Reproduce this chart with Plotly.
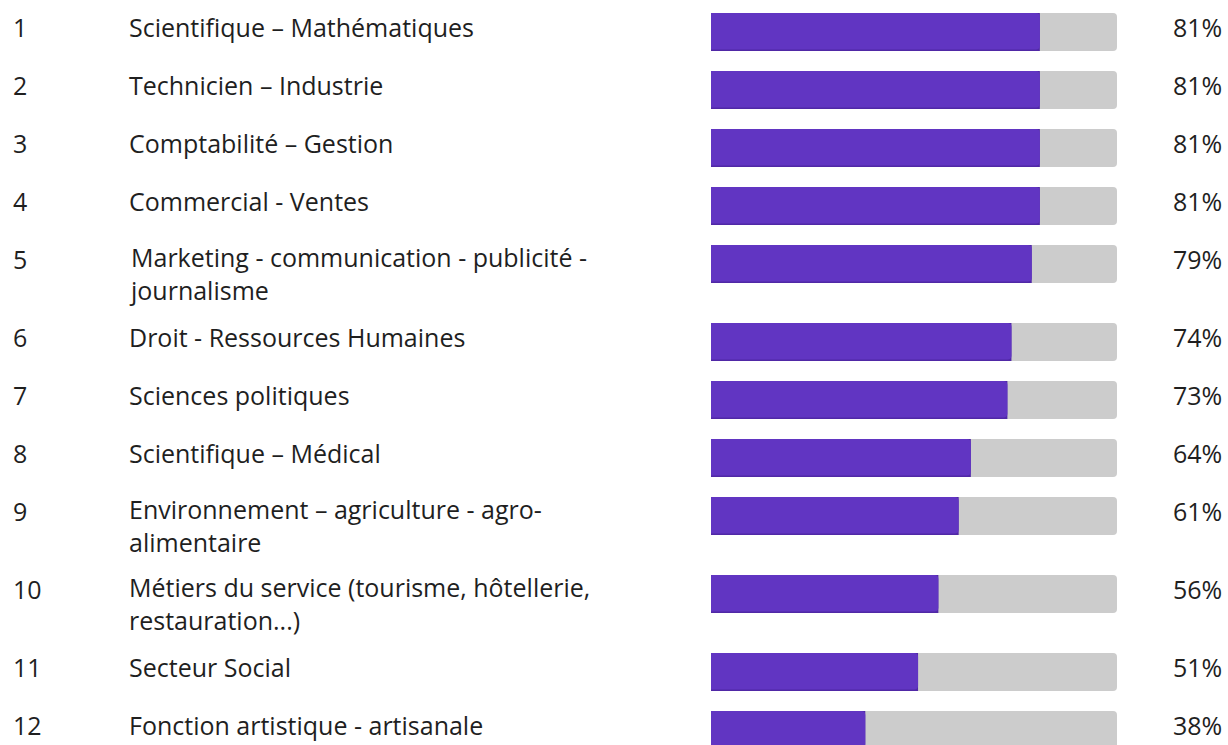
import plotly.graph_objects as go

ranks = ["1", "2", "3", "4", "5", "6", "7", "8", "9", "10", "11", "12"]
labels = [
    "Scientifique – Mathématiques",
    "Technicien – Industrie",
    "Comptabilité – Gestion",
    "Commercial - Ventes",
    "Marketing - communication - publicité -<br>journalisme",
    "Droit - Ressources Humaines",
    "Sciences politiques",
    "Scientifique – Médical",
    "Environnement – agriculture - agro-<br>alimentaire",
    "Métiers du service (tourisme, hôtellerie,<br>restauration...)",
    "Secteur Social",
    "Fonction artistique - artisanale",
]
values = [81, 81, 81, 81, 79, 74, 73, 64, 61, 56, 51, 38]

W, H = 1228, 745
BAR_H = 38
ROW_STEP = 58
EXTRA_LINE = 20
FONT = "Open Sans"
FS = 25
LINE_H = 1.3 * FS
TXT = "#1f1f1f"

# vertical layout in pixel units (y axis = pixels from top)
tops = []
y = 13
for lab in labels:
    tops.append(y)
    y += ROW_STEP + EXTRA_LINE * lab.count("<br>")
centers = [t + BAR_H / 2 for t in tops]

fig = go.Figure()
fig.add_trace(go.Bar(
    x=[100] * len(values), y=centers, orientation="h", width=BAR_H,
    marker=dict(color="#cccccc", line=dict(width=0)), hoverinfo="skip",
))
# subtle darker bottom edge of the filled bar
fig.add_trace(go.Bar(
    x=values, y=centers, orientation="h", width=BAR_H,
    marker=dict(color="#5028a6", line=dict(width=0)), hoverinfo="skip",
))
fig.add_trace(go.Bar(
    x=values, y=[c - 0.75 for c in centers], orientation="h", width=BAR_H - 1.5,
    marker=dict(color="#6135c2", line=dict(width=0)),
    hovertemplate="%{x}%<extra></extra>",
))

ann = []
for r, lab, v, c in zip(ranks, labels, values, centers):
    ty = c - 5
    font = dict(family=FONT, size=FS, color=TXT)
    common = dict(yref="y", yanchor="middle", showarrow=False, font=font)
    n = lab.count("<br>")
    ann.append(dict(xref="paper", x=11 / W, y=ty, xanchor="left", text=r, **common))
    ann.append(dict(xref="paper", x=127 / W, y=ty + n * LINE_H / 2 - 2 * n, xanchor="left",
                    align="left", text=lab, **common))
    ann.append(dict(xref="paper", x=1224 / W, y=ty, xanchor="right", text=f"{v}%", **common))

fig.update_layout(
    width=W, height=H,
    margin=dict(l=0, r=0, t=0, b=0, pad=0),
    paper_bgcolor="white", plot_bgcolor="white",
    barmode="overlay", barcornerradius=4,
    showlegend=False,
    xaxis=dict(domain=[711 / W, 1117 / W], range=[0, 100], visible=False, fixedrange=True),
    yaxis=dict(domain=[0, 1], range=[H, 0], visible=False, fixedrange=True),
    annotations=ann,
    font=dict(family=FONT),
)

fig.write_html(
    "out.html",
    config={"displayModeBar": False},
    post_script="document.body.style.margin='0';document.body.style.overflow='hidden';",
)
